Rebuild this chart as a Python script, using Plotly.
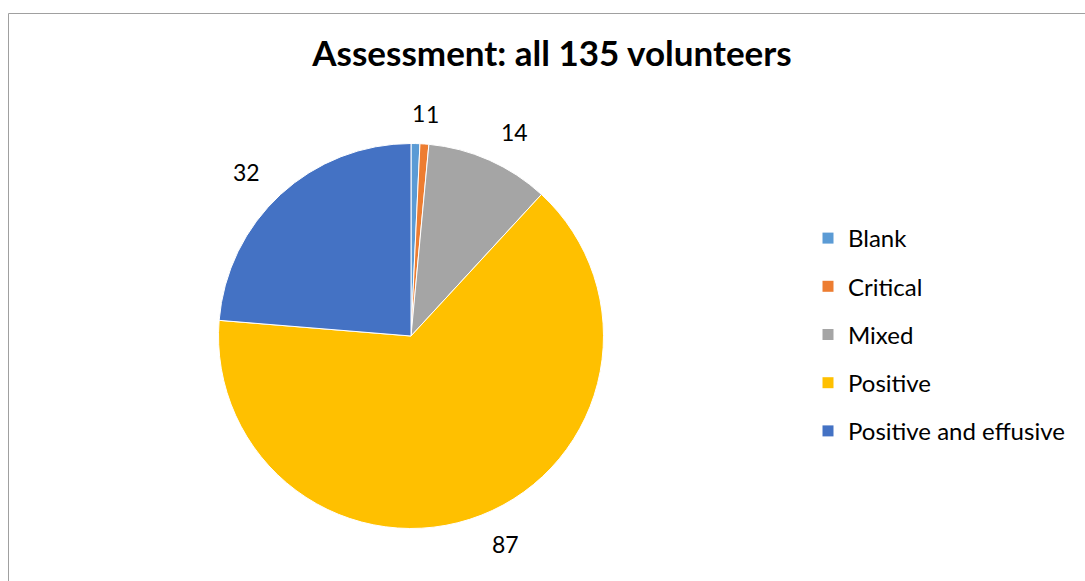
import math
import plotly.graph_objects as go

# Survey assessment categories and counts
categories = ["Blank", "Critical", "Mixed", "Positive", "Positive and effusive"]
counts = [1, 1, 14, 87, 32]
colors = ["#5B9BD5", "#ED7D31", "#A5A5A5", "#FFC000", "#4472C4"]
title_text = "Assessment: all 135 volunteers"

W, H = 1085, 581
FONT = "Lato"
LABEL_SIZE = 23

# pie geometry in pixels (centre and radius)
cx, cy, R = 411, 336, 192.5
label_r = 223

fig = go.Figure()
fig.add_trace(go.Pie(
    labels=categories,
    values=counts,
    marker=dict(colors=colors, line=dict(color="white", width=1)),
    sort=False,
    direction="clockwise",
    rotation=0,
    textinfo="none",
    hoverinfo="label+value",
    showlegend=False,
    domain=dict(x=[(cx - R) / W, (cx + R) / W], y=[(H - cy - R) / H, (H - cy + R) / H]),
))

# value labels outside each slice: anchored at the mid-angle, pushed sideways
# by half their width away from the vertical axis
total = sum(counts)
cum = 0
label_pos = []
for v in counts:
    mid = (cum + v / 2) / total * 2 * math.pi
    cum += v
    w = len(str(v)) * 0.56 * LABEL_SIZE
    side = 1 if math.sin(mid) >= 0 else -1
    px = cx + label_r * math.sin(mid) + side * w / 2
    py = cy - label_r * math.cos(mid)
    label_pos.append([px, py, w])

# keep neighbouring labels from overlapping by moving the earlier one left
for i in range(len(label_pos) - 1, 0, -1):
    a, b = label_pos[i - 1], label_pos[i]
    if abs(a[1] - b[1]) < LABEL_SIZE and abs(a[0] - b[0]) < (a[2] + b[2]) / 2 + 2:
        a[0] = b[0] - (a[2] + b[2]) / 2 - 2

annotations = []
for v, (px, py, w) in zip(counts, label_pos):
    annotations.append(dict(
        x=px / W, y=1 - py / H, xref="paper", yref="paper",
        text=str(v), showarrow=False, xanchor="center", yanchor="middle",
        borderpad=0,
        font=dict(family=FONT, size=LABEL_SIZE, color="#000000"),
    ))

# legend entries as square markers, one group each for even spacing
for name, c in zip(categories, colors):
    fig.add_trace(go.Scatter(
        x=[None], y=[None], mode="markers", name=name, legendgroup=name,
        marker=dict(symbol="square", size=11, color=c),
        hoverinfo="skip",
    ))

fig.update_layout(
    width=W, height=H,
    margin=dict(l=0, r=0, t=0, b=0),
    paper_bgcolor="white",
    plot_bgcolor="white",
    xaxis=dict(visible=False),
    yaxis=dict(visible=False),
    title=dict(
        text=title_text, x=552 / W, xanchor="center", y=1 - 54 / H, yanchor="middle",
        font=dict(family=FONT, size=35, color="#000000", weight="bold"),
    ),
    legend=dict(
        x=808 / W, xanchor="left", y=1 - 216 / H, yanchor="top",
        font=dict(family=FONT, size=24, color="#000000"),
        tracegroupgap=14, itemsizing="trace",
        bgcolor="rgba(0,0,0,0)",
    ),
    annotations=annotations,
    shapes=[dict(
        type="rect", xref="paper", yref="paper",
        x0=8.5 / W, x1=1.02, y0=-0.02, y1=1 - 13.5 / H,
        line=dict(color="#A0A0A0", width=1), fillcolor="rgba(0,0,0,0)", layer="below",
    )],
)

fig.write_html("out.html")
